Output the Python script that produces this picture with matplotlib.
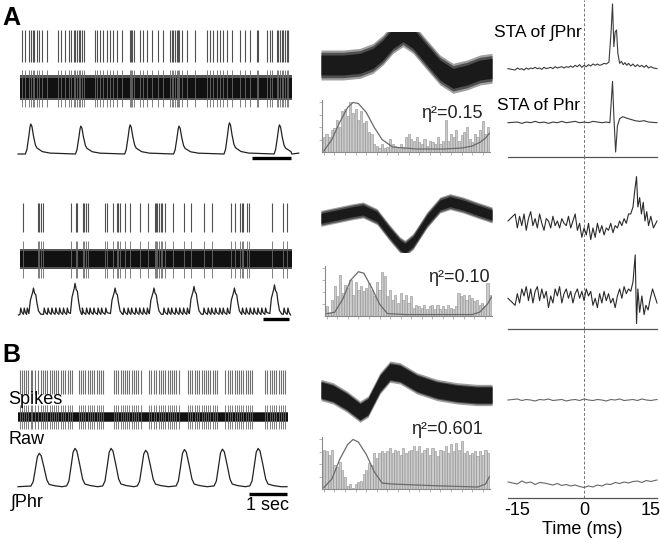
import numpy as np
import matplotlib
matplotlib.use('Agg')
import matplotlib.pyplot as plt

plt.rcParams['font.family'] = ['Liberation Sans', 'DejaVu Sans']
plt.rcParams['font.size'] = 13

# ---------------- data ----------------
# spike raster times (s)
a1_spikes = [0.04, 0.13, 0.24, 0.29, 0.33, 0.37, 0.43, 0.50, 0.56, 0.69, 1.00, 1.06, 1.17,
             1.26, 1.32, 1.39, 1.43, 1.47, 1.53, 1.56, 1.60, 1.65, 1.95, 1.99, 2.08, 2.16,
             2.25, 2.34, 2.42, 2.53, 2.64, 2.86, 2.88, 2.92, 2.97, 3.12, 3.20, 3.29, 3.42,
             3.59, 3.72, 3.90, 3.94, 3.98, 4.03, 4.07, 4.11, 4.14, 4.20, 4.33, 4.55, 4.85,
             4.94, 5.02, 5.11, 5.19, 5.28, 5.37, 5.50, 5.71, 5.84, 5.97, 6.15, 6.19, 6.41,
             6.49, 6.54, 6.67, 6.71, 6.75, 6.80, 6.84, 6.88, 6.93, 6.97]
a2_spikes = [0.09, 0.48, 0.50, 0.54, 0.61, 1.32, 1.45, 1.49, 1.63, 1.66, 1.71, 1.77, 2.21,
             2.25, 2.42, 2.51, 2.55, 2.60, 2.73, 2.87, 3.13, 3.33, 3.51, 3.53, 3.57, 3.61,
             3.65, 3.70, 3.77, 3.97, 4.27, 4.44, 4.79, 5.00, 5.47, 5.58, 5.71, 5.76, 5.80,
             5.89, 5.96, 6.54, 6.82, 6.94]
b_spikes = [0.05, 0.11, 0.16, 0.22, 0.26, 0.33, 0.38, 0.45, 0.52, 0.60, 0.66, 0.70, 0.76,
            0.83, 0.89, 0.95, 1.00, 1.06, 1.12, 1.19, 1.25, 1.31, 1.36, 1.42, 1.60, 1.66,
            1.71, 1.77, 1.84, 1.90, 1.95, 2.01, 2.08, 2.14, 2.19, 2.25, 2.52, 2.57, 2.63,
            2.70, 2.76, 2.81, 2.87, 2.93, 3.00, 3.06, 3.11, 3.17, 3.24, 3.46, 3.51, 3.57,
            3.63, 3.70, 3.76, 3.81, 3.87, 3.94, 4.00, 4.05, 4.11, 4.17, 4.24, 4.47, 4.52,
            4.58, 4.65, 4.70, 4.76, 4.83, 4.89, 4.94, 5.00, 5.06, 5.13, 5.18, 5.24, 5.46,
            5.52, 5.58, 5.63, 5.70, 5.76, 5.81, 5.87, 5.93, 6.00, 6.05, 6.11, 6.17, 6.50,
            6.56, 6.62, 6.68, 6.74, 6.80, 6.86, 6.92, 6.98, 7.03]

# integrated phrenic bursts: peak times (s), peak heights, and burst shape
a1_peaks = [0.28, 1.58, 2.86, 4.13, 5.44, 6.74]
a1_amps = [1.0, 0.93, 0.97, 0.93, 1.04, 0.97]
a_burst_dt = [-0.14, -0.10, -0.05, -0.02, 0.0, 0.03, 0.07, 0.12, 0.16, 0.30, 0.50]
a_burst_v = [0.0, 0.15, 0.60, 0.90, 1.0, 0.92, 0.60, 0.30, 0.20, 0.08, 0.03]

a2_peaks = [0.35, 1.43, 2.47, 3.48, 4.52, 5.57, 6.61]
a2_amps = [0.85, 1.0, 0.85, 0.85, 0.9, 0.85, 0.95]
a2_burst_dt = [-0.12, -0.08, -0.05, -0.02, 0.0, 0.03, 0.06, 0.09, 0.13, 0.19]
a2_burst_v = [0.05, 0.55, 0.70, 0.85, 1.0, 0.80, 0.75, 0.45, 0.15, 0.03]
a2_ripples = [0.0, 0.09, 0.17, 0.61, 0.71, 0.81, 0.91, 1.01, 1.11, 1.21, 1.60, 1.71, 1.80,
              1.90, 2.01, 2.10, 2.21, 2.68, 2.79, 2.88, 2.99, 3.09, 3.19, 3.29, 3.72, 3.83,
              3.92, 4.03, 4.13, 4.23, 4.33, 4.76, 4.87, 4.96, 5.06, 5.17, 5.26, 5.37, 5.76,
              5.86, 5.96, 6.06, 6.16, 6.26, 6.36, 6.84, 6.94]
ripple_dt = [0.0, 0.02, 0.05]
ripple_v = [0.02, 0.22, 0.08]

b_peaks = [0.56, 1.50, 2.45, 3.36, 4.38, 5.38, 6.32]
b_amps = [0.87, 1.0, 1.0, 0.95, 0.97, 0.98, 1.0]
b_burst_dt = [-0.22, -0.16, -0.10, -0.05, 0.0, 0.05, 0.12, 0.20, 0.26, 0.40, 0.60]
b_burst_v = [0.02, 0.15, 0.55, 0.90, 1.0, 0.93, 0.60, 0.20, 0.07, 0.03, 0.0]

# overlaid spike waveforms: sample position, mean amplitude
a1_wave_x = [0, 22, 39, 52, 62, 72, 82, 92, 106, 119, 132, 146, 159, 171]
a1_wave_y = [0, 0, 0.05, 0.2, 0.45, 0.8, 1.0, 0.8, 0.3, -0.15, -0.4, -0.3, -0.15, -0.1]
a2_wave_x = [0, 16, 32, 42, 56, 69, 79, 84, 92, 106, 119, 129, 142, 156, 171]
a2_wave_y = [0, 0.1, 0.2, 0.25, 0.05, -0.45, -0.8, -0.9, -0.7, -0.05, 0.4, 0.5, 0.4, 0.25, 0.1]
b_wave_x = [0, 12, 26, 39, 47, 59, 69, 79, 96, 116, 136, 156, 171]
b_wave_y = [0, -0.1, -0.35, -0.65, -0.5, 0.2, 0.55, 0.5, 0.2, 0, -0.1, -0.15, -0.15]

# phase histograms (relative bar heights) and fitted curves
a1_hist = [0.30, 0.37, 0.30, 0.44, 0.48, 0.65, 0.51, 0.83, 0.86, 0.72, 1.0, 0.79, 0.86,
           0.65, 0.83, 0.58, 0.62, 0.41, 0.37, 0.16, 0.13, 0.09, 0.16, 0.09, 0.10, 0.27,
           0.16, 0.13, 0.09, 0.16, 0.10, 0.30, 0.37, 0.27, 0.23, 0.30, 0.20, 0.16, 0.27,
           0.13, 0.23, 0.20, 0.16, 0.30, 0.16, 0.23, 0.65, 0.23, 0.37, 0.30, 0.44, 0.23,
           0.34, 0.41, 0.51, 0.27, 0.20, 0.37, 0.30, 0.44, 0.62, 0.37, 0.51]
a1_fit_x = [0, 3, 6, 9, 11, 13, 16, 19, 22, 26, 35, 45, 52, 56, 59, 61, 62.5]
a1_fit_y = [0.02, 0.25, 0.6, 0.9, 1.0, 0.98, 0.8, 0.5, 0.25, 0.1, 0.06, 0.06, 0.08, 0.12, 0.2, 0.28, 0.38]

a2_hist = [0.21, 0.07, 0.34, 0.62, 0.41, 0.86, 0.48, 0.66, 0.59, 0.76, 0.45, 0.72, 0.55,
           0.62, 0.52, 0.59, 0.69, 0.55, 0.41, 0.72, 0.55, 0.93, 0.83, 0.41, 0.55, 0.34,
           0.45, 0.28, 0.48, 0.34, 0.45, 0.28, 0.41, 0.17, 0.24, 0.21, 0.17, 0.24, 0.14,
           0.21, 0.24, 0.14, 0.24, 0.14, 0.21, 0.14, 0.24, 0.17, 0.14, 0.21, 0.48, 0.41,
           0.45, 0.34, 0.45, 0.38, 0.31, 0.34, 0.24, 0.28, 0.21, 0.69, 0.45]
a2_fit_x = [0, 3, 6, 9, 12, 14, 17, 20, 23, 30, 55, 58, 61, 62.5]
a2_fit_y = [0.05, 0.08, 0.35, 0.75, 0.93, 0.9, 0.6, 0.25, 0.05, 0.03, 0.03, 0.08, 0.25, 0.4]

b_hist = [0.79, 0.76, 0.69, 0.79, 0.48, 0.45, 0.55, 0.38, 0.24, 0.07, 0.10, 0.03, 0.10,
          0.14, 0.17, 0.31, 0.38, 0.52, 0.48, 0.72, 0.62, 0.72, 0.76, 0.72, 0.76, 0.83,
          0.72, 0.79, 0.76, 0.69, 0.83, 0.72, 0.76, 0.79, 0.86, 0.76, 0.86, 0.72, 0.79,
          0.83, 0.69, 0.83, 0.76, 0.66, 0.79, 0.76, 0.86, 0.72, 0.90, 0.76, 0.93, 0.79,
          0.97, 0.72, 0.76, 0.69, 0.72, 0.76, 0.66, 0.76, 0.69, 0.79, 0.72]
b_fit_x = [0, 3, 6, 9, 11, 13, 16, 19, 22, 26, 40, 58, 61, 62.5]
b_fit_y = [0.03, 0.2, 0.6, 0.9, 1.0, 0.95, 0.7, 0.35, 0.12, 0.1, 0.07, 0.04, 0.1, 0.25]

eta_labels = ['η²=0.15', 'η²=0.10', 'η²=0.601']

# spike-triggered averages (time in ms, relative amplitude)
sta_a1_int = [(-17.1, .02), (-15.5, 0), (-15, .03), (-14.5, .01), (-14, .02), (-13.5, 0),
              (-13, .03), (-12.5, .01), (-12, .03), (-11.5, .02), (-11, .04), (-10.5, .02),
              (-10, .03), (-9.5, .01), (-9, .04), (-8.5, .02), (-8, .03), (-7.5, .04),
              (-7, .02), (-6.5, .05), (-6, .03), (-5.5, .04), (-5, .05), (-4.5, .03),
              (-4, .05), (-3.5, .04), (-3, .06), (-2.5, .04), (-2, .07), (-1.5, .05),
              (-1, .08), (-0.5, .04), (0, .07), (0.5, .05), (1, .08), (1.5, .06), (2, .09),
              (2.5, .07), (3, .09), (3.5, .07), (4, .08), (4.5, .1), (5, .09), (5.6, .12),
              (6.1, .6), (6.4, .99), (6.7, .35), (7.0, .57), (7.3, .6), (7.6, .25),
              (8.0, .1), (8.4, .13), (8.8, .08), (9.2, .11), (9.6, .07), (10, .1), (10.5, .06),
              (11, .09), (11.5, .05), (12, .08), (12.5, .05), (13, .07), (13.5, .04),
              (14, .07), (14.5, .03), (15, .05), (15.6, .03), (16.4, .02)]
sta_a1_phr = [(-17.1, 0), (-15, .01), (-14, -.01), (-13, .01), (-12, 0), (-11, .02), (-10, 0),
              (-9, .01), (-8, -.01), (-7, .01), (-6, 0), (-5, .02), (-4, 0), (-3, .01),
              (-2, .02), (-1, 0), (0, .01), (1, 0), (2, .02), (3, .01), (4, 0), (5, .01),
              (5.8, 0), (6.1, .3), (6.4, .62), (6.7, .1), (7.1, -.44), (7.5, -.05),
              (8.0, .06), (8.7, .09), (9.5, .07), (10.5, .05), (11.5, .03), (12.5, .02),
              (13.5, .03), (14.5, .01), (16.4, 0)]
sta_a2_int = [(-17.1, .05), (-15.5, .2), (-15, -.1), (-14.5, .15), (-14, -.05), (-13.5, .2),
              (-13, -.15), (-12.5, .1), (-12, .25), (-11.5, -.05), (-11, .1), (-10.5, -.1),
              (-10, .2), (-9.5, 0), (-9, -.15), (-8.5, .1), (-8, .05), (-7.5, -.1),
              (-7, .15), (-6.5, -.05), (-6, .05), (-5.5, -.1), (-5, .1), (-4.5, 0),
              (-4, -.05), (-3.5, .15), (-3, -.1), (-2.5, .05), (-2, .2), (-1.5, -.15),
              (-1, 0), (-0.5, -.3), (0, -.1), (0.5, -.25), (1, 0), (1.5, -.35), (2, -.1),
              (2.5, -.3), (3, 0), (3.5, -.2), (4, -.05), (4.5, -.25), (5, -.1), (5.5, -.15),
              (6, 0), (6.5, -.2), (7, -.05), (7.5, -.1), (8, .05), (8.5, -.05), (9, .1),
              (9.5, 0), (10, .2), (10.5, .2), (11.0, .35), (11.4, .7), (11.8, 1.0),
              (12.1, .35), (12.5, .55), (12.9, .2), (13.3, .45), (13.7, .05), (14.1, .25),
              (14.5, -.05), (15, .15), (15.6, -.1), (16.4, .05)]
sta_a2_phr = [(-17.1, 0), (-15.5, -.15), (-15, .1), (-14.5, -.1), (-14, .2), (-13.5, .05),
              (-13, .25), (-12.5, -.05), (-12, .2), (-11.5, -.1), (-11, .15), (-10.5, .25),
              (-10, -.05), (-9.5, .2), (-9, 0), (-8.5, .15), (-8, -.2), (-7.5, .05),
              (-7, -.1), (-6.5, .2), (-6, .05), (-5.5, .25), (-5, -.1), (-4.5, .1),
              (-4, .2), (-3.5, 0), (-3, .15), (-2.5, -.1), (-2, .1), (-1.5, .2), (-1, 0),
              (-0.5, .15), (0, -.05), (0.5, .2), (1, .05), (1.5, .15), (2, -.15), (2.5, 0),
              (3, -.2), (3.5, .1), (4, -.1), (4.5, .15), (5, -.05), (5.5, .1), (6, -.1),
              (6.5, 0), (7, -.2), (7.5, .05), (8, .2), (8.5, 0), (9, .25), (9.5, .1),
              (10, .2), (10.5, .15), (11.0, .35), (11.5, .93), (11.8, -.54), (12.1, .2),
              (12.5, -.3), (13, .05), (13.5, -.35), (13.9, -.15), (14.4, -.25), (14.9, 0),
              (15.4, .2), (16.4, -.1)]
sta_b_int = [(-17.1, 0), (-15, .1), (-14, -.05), (-13, .05), (-12, 0), (-11, -.1), (-10, .05),
             (-9, 0), (-8, .1), (-7, -.05), (-6, 0), (-5, .05), (-4, -.1), (-3, 0), (-2, .05),
             (-1, -.05), (0, .1), (1, 0), (2, -.05), (3, .05), (4, 0), (5, -.1), (6, .05),
             (7, 0), (8, .1), (9, -.05), (10, 0), (11, .05), (12, -.05), (13, .1), (14, 0),
             (15, -.05), (16.4, .05)]
sta_b_phr = [(-17.1, .1), (-15, -.1), (-14, .2), (-13, 0), (-12, .1), (-11, -.15), (-10, .05),
             (-9, 0), (-8, -.1), (-7, -.2), (-6, -.05), (-5, -.25), (-4, -.15), (-3, -.3),
             (-2, -.2), (-1, -.35), (0, -.45), (1, -.3), (2, -.4), (3, -.2), (4, -.3),
             (5, -.1), (6, -.15), (7, .05), (8, -.05), (9, .1), (10, 0), (11, .15), (12, .2),
             (13, .05), (14, .25), (15, .15), (16.4, .3)]

# ---------------- layout helpers ----------------
W, H = 660, 542
fig = plt.figure(figsize=(6.6, 5.42), dpi=100)


def strip(x0, x1, y_zero, scale, xlim, ylim=(-1, 1)):
    ax = fig.add_axes([x0 / W, 1 - (y_zero + scale) / H, (x1 - x0) / W, 2 * scale / H])
    ax.set_xlim(*xlim)
    ax.set_ylim(*ylim)
    ax.axis('off')
    return ax


def box(x0, y0, x1, y1):
    return fig.add_axes([x0 / W, 1 - y1 / H, (x1 - x0) / W, (y1 - y0) / H])


def ftext(x, y, s, **kw):
    fig.text(x / W, 1 - y / H, s, **kw)


def bursts(peaks, amps, dt, v, t0, t1, extra_t=(), extra_v=()):
    t = [t0] + [p + d for p, a in zip(peaks, amps) for d in dt] + list(extra_t) + [t1]
    y = [0.0] + [a * vv for p, a in zip(peaks, amps) for vv in v] + list(extra_v) + [0.0]
    order = np.argsort(t)
    return np.array(t)[order], np.array(y)[order]


def left_row(spikes, x_span, spk_geo, raw_geo, core, phr_geo, tlim, phr_t, phr_v,
             bar, bar_y, spk_col):
    x0, x1 = x_span
    ax = strip(x0, x1, spk_geo[0], spk_geo[1], tlim)
    ax.vlines(spikes, -1, 1, color=spk_col, lw=0.8, clip_on=False)
    ax = strip(x0, x1, raw_geo[0], raw_geo[1], tlim)
    ax.vlines(spikes, -0.95, 0.9, color='#6a6a6a', lw=0.6, clip_on=False)
    ax.fill_between([tlim[0] - 0.05, tlim[1] + 0.02], -core * 1.25, core * 1.25,
                    color='#555', lw=0)
    ax.fill_between([tlim[0] - 0.05, tlim[1] + 0.02], -core, core, color='#111', lw=0)
    ax = strip(x0, x1, phr_geo[0], phr_geo[1], tlim)
    ax.plot(phr_t, phr_v, color='#222', lw=0.9, clip_on=False)
    ax.plot(bar, [bar_y, bar_y], color='k', lw=2.4, solid_capstyle='butt', clip_on=False)


# ---------------- left column: raw recordings ----------------
t_a = (0, 7.04)
t_b = (0, 7.08)
pt, pv = bursts(a1_peaks, a1_amps, a_burst_dt, a_burst_v, -0.05, 7.06)
left_row(a1_spikes, (20, 291), (46, 16), (87.5, 20), 0.5, (154, 30), t_a, pt, pv,
         [6.03, 7.04], -0.13, '#505050')

rip_t = [r + d for r in a2_ripples for d in ripple_dt]
rip_v = [v for r in a2_ripples for v in ripple_v]
pt, pv = bursts(a2_peaks, a2_amps, a2_burst_dt, a2_burst_v, -0.04, 7.03, rip_t, rip_v)
left_row(a2_spikes, (20, 291), (217.5, 14.5), (259, 20), 0.4, (315, 31.7), t_a, pt, pv,
         [6.31, 6.99], -0.13, '#505050')

pt, pv = bursts(b_peaks, b_amps, b_burst_dt, b_burst_v, 0.0, 7.08)
left_row(b_spikes, (18, 287), (382, 12), (417, 13), 0.28, (486.7, 38.3), t_b, pt, pv,
         [6.08, 7.08], -0.19, '#707070')

ftext(8, 400, 'Spikes', ha='left', va='center', fontsize=13)
ftext(9, 439, 'Raw', ha='left', va='center', fontsize=13)
ftext(11, 502, '∫Phr', ha='left', va='center', fontsize=13)
ftext(268, 506, '1 sec', ha='center', va='center', fontsize=13)
ftext(2, 18, 'A', ha='left', va='center', fontsize=18, fontweight='bold')
ftext(2, 355, 'B', ha='left', va='center', fontsize=18, fontweight='bold')

# ---------------- middle column: waveforms and phase histograms ----------------
waves = [(a1_wave_x, a1_wave_y, 65, 0.45, 0.30),
         (a2_wave_x, a2_wave_y, 218.3, 0.24, 0.15),
         (b_wave_x, b_wave_y, 390, 0.32, 0.24)]
for wx, wy, yz, outer, inner in waves:
    ax = strip(321, 492, yz, 33.3, (0, 171))
    wy = np.array(wy)
    ax.fill_between(wx, wy - outer, wy + outer, color='#a0a0a0', lw=0)
    ax.fill_between(wx, wy - 0.85 * outer, wy + 0.85 * outer, color='#505050', lw=0)
    ax.fill_between(wx, wy - inner, wy + inner, color='#1a1a1a', lw=0)

hists = [(a1_hist, a1_fit_x, a1_fit_y, (322, 100, 490, 152), eta_labels[0], (483, 113)),
         (a2_hist, a2_fit_x, a2_fit_y, (325, 266, 492, 316), eta_labels[1], (490, 277)),
         (b_hist, b_fit_x, b_fit_y, (322, 437, 490, 489), eta_labels[2], (483, 430))]
for hv, fx, fy, geo, lab, tpos in hists:
    ax = box(*geo)
    ax.bar(range(len(hv)), hv, width=0.8, color='#cacaca', edgecolor='#8e8e8e', lw=0.4)
    ax.plot(fx, fy, color='#6a6a6a', lw=0.9)
    ax.set_xlim(-0.7, len(hv) - 0.3)
    ax.set_ylim(0, 1.05)
    ax.patch.set_alpha(0)
    for s in ('top', 'right'):
        ax.spines[s].set_visible(False)
    for s in ('left', 'bottom'):
        ax.spines[s].set_color('#8a8a8a')
        ax.spines[s].set_linewidth(0.8)
    ax.set_xticks(np.arange(0, len(hv), 4))
    ax.set_yticks([0.25, 0.5, 0.75, 1.0])
    ax.tick_params(length=2, width=0.5, color='#999', labelbottom=False, labelleft=False)
    ftext(tpos[0], tpos[1], lab, ha='right', va='center', fontsize=13, color='#222')

# ---------------- right column: spike-triggered averages ----------------
t_sta = (-17.1, 16.4)
groups = [(0, 157), (157, 329), (329, 498)]
for i, (y0, y1) in enumerate(groups):
    ax = box(508, y0, 657, y1)
    ax.set_xlim(*t_sta)
    ax.set_ylim(0, 1)
    ax.patch.set_alpha(0)
    for s in ('top', 'right', 'left'):
        ax.spines[s].set_visible(False)
    ax.spines['bottom'].set_color('#555')
    ax.spines['bottom'].set_linewidth(0.9)
    ax.axvline(0, color='#777', lw=0.7, ls=(0, (3, 2)))
    ax.set_yticks([])
    if i < 2:
        ax.set_xticks([])
    else:
        ax.set_xticks([-15, 0, 15])
        ax.set_xticklabels(['-15', '0', '15'])
        ax.tick_params(length=0, pad=3, labelsize=13)
        ax.set_xlabel('Time (ms)', fontsize=13, labelpad=1)

sta = [(sta_a1_int, 70, 66.7, '#3a3a3a'), (sta_a1_phr, 122.7, 66.7, '#3a3a3a'),
       (sta_a2_int, 223.3, 46.7, '#2a2a2a'), (sta_a2_phr, 298.3, 46.7, '#2a2a2a'),
       (sta_b_int, 400, 10, '#666'), (sta_b_phr, 483, 10, '#666')]
for pairs, yz, sc, col in sta:
    ax = strip(508, 657, yz, sc, t_sta)
    tt, vv = np.array(pairs).T
    ax.plot(tt, vv, color=col, lw=0.8, clip_on=False)

ftext(494, 33, 'STA of ∫Phr', ha='left', va='center', fontsize=12.5)
ftext(497, 105, 'STA of Phr', ha='left', va='center', fontsize=12.5)

fig.savefig('out.png', dpi=100)
